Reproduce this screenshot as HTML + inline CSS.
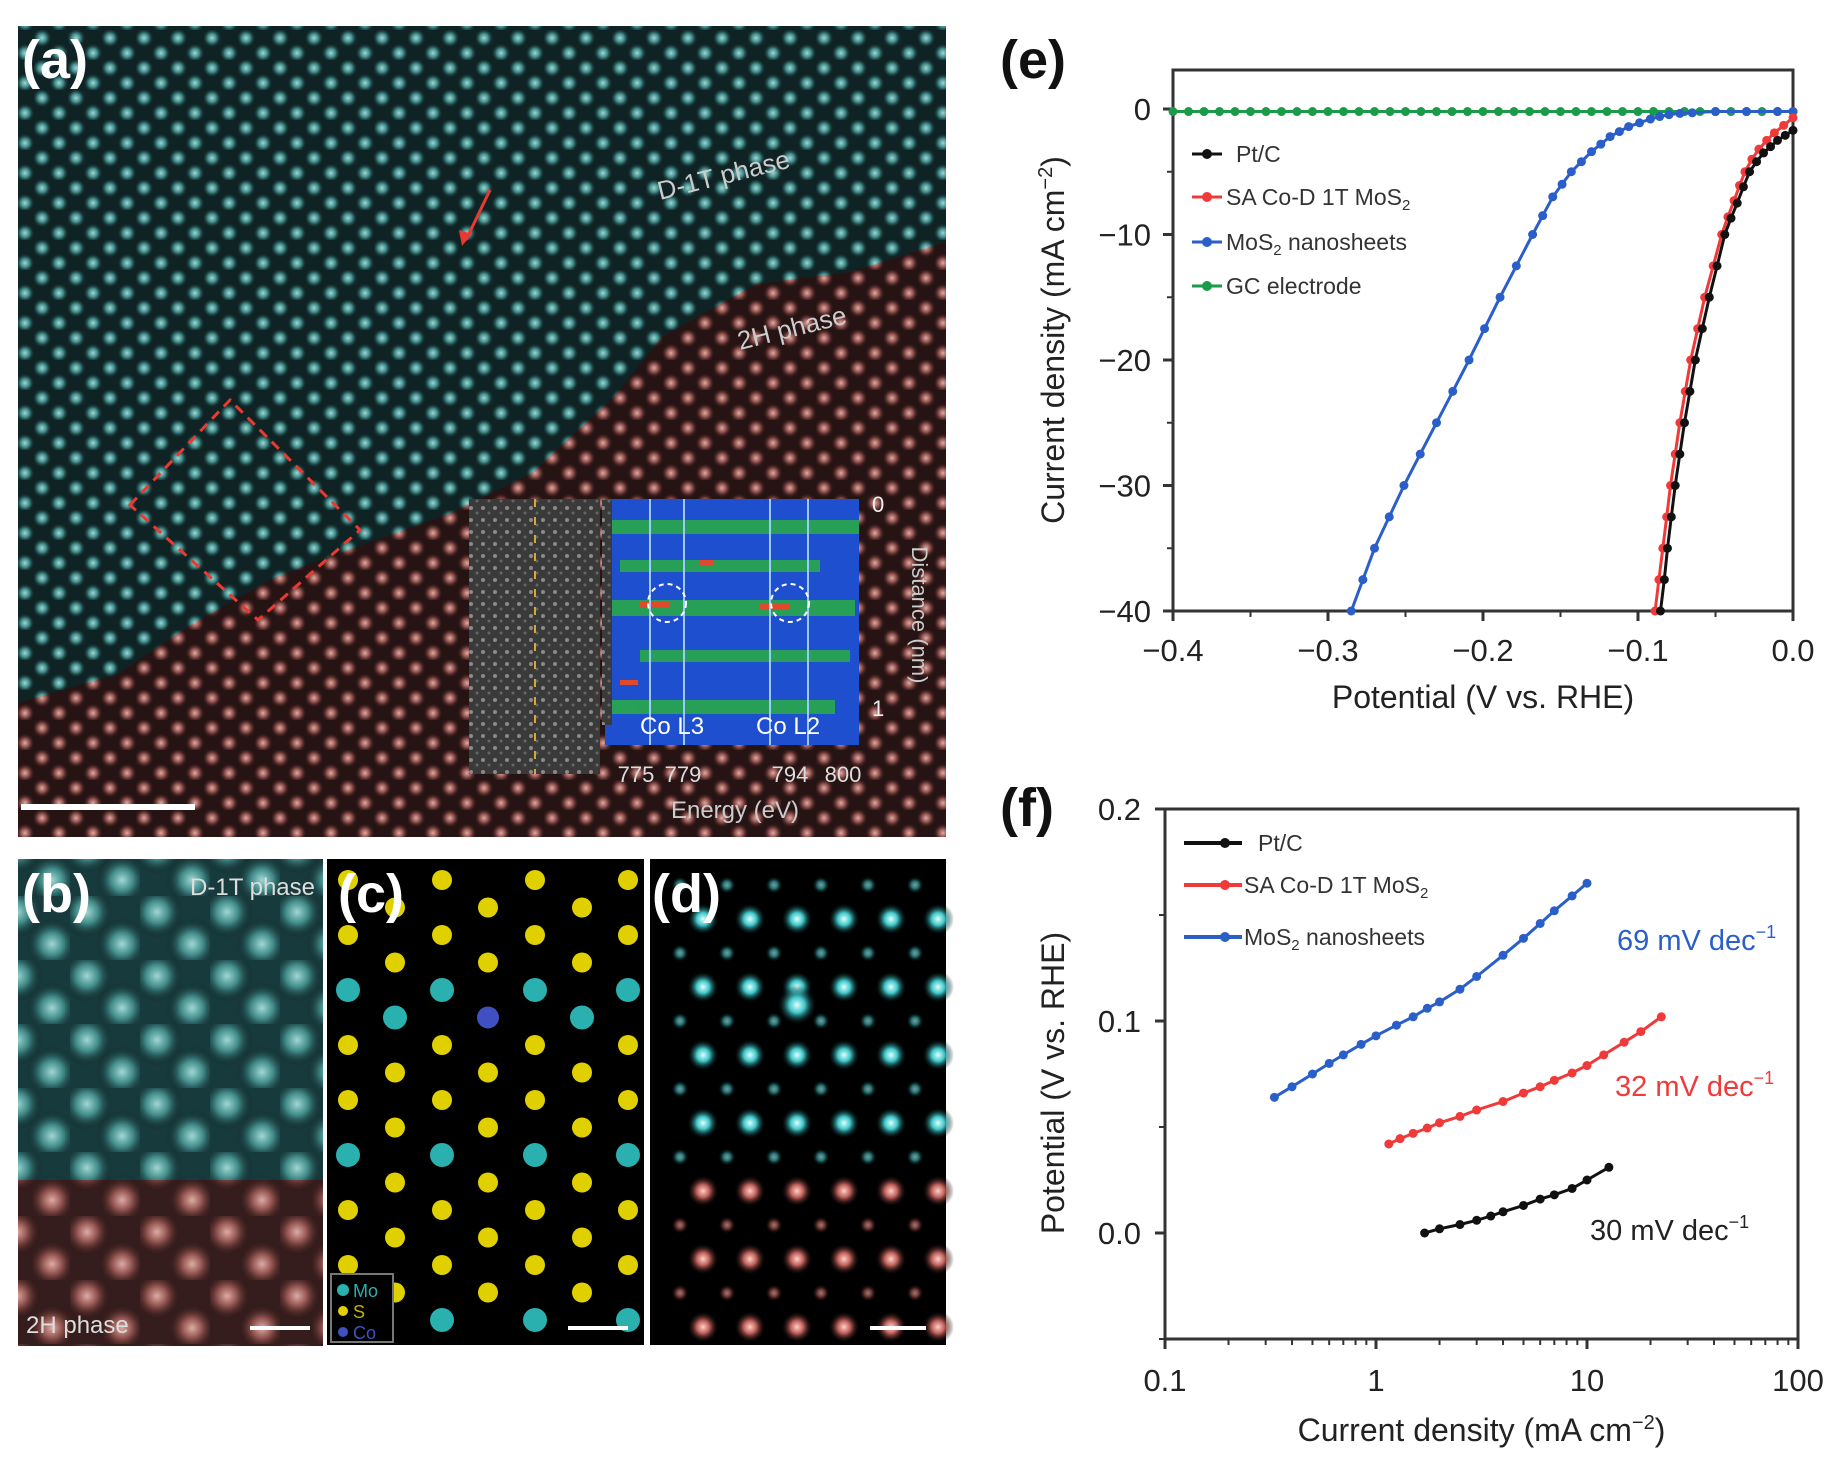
<!DOCTYPE html>
<html><head><meta charset="utf-8"><style>
html,body{margin:0;padding:0;background:#fff;}
svg{display:block;font-family:"Liberation Sans",sans-serif;}
</style></head><body>
<svg id="fig" width="1844" height="1476" viewBox="0 0 1844 1476" xmlns="http://www.w3.org/2000/svg">
<defs>
<radialGradient id="gTeal"><stop offset="0" stop-color="#9ed8d4"/><stop offset="0.45" stop-color="#3f8886"/><stop offset="1" stop-color="#0c1c1e" stop-opacity="0"/></radialGradient>
<radialGradient id="gPink"><stop offset="0" stop-color="#e0aaa4"/><stop offset="0.45" stop-color="#8a4e4a"/><stop offset="1" stop-color="#2a1212" stop-opacity="0"/></radialGradient>
<radialGradient id="gGlowT"><stop offset="0" stop-color="#e0ffff"/><stop offset="0.4" stop-color="#3fc6c8"/><stop offset="1" stop-color="#000" stop-opacity="0"/></radialGradient>
<radialGradient id="gGlowP"><stop offset="0" stop-color="#ffd0c8"/><stop offset="0.4" stop-color="#c0605a"/><stop offset="1" stop-color="#000" stop-opacity="0"/></radialGradient>
<pattern id="pTeal" width="34" height="30" patternUnits="userSpaceOnUse">
<rect width="34" height="30" fill="#0f2224"/>
<circle cx="8" cy="8" r="10" fill="url(#gTeal)"/><circle cx="25" cy="23" r="10" fill="url(#gTeal)"/>
</pattern>
<pattern id="pPink" width="34" height="30" patternUnits="userSpaceOnUse">
<rect width="34" height="30" fill="#261313"/>
<circle cx="8" cy="8" r="10" fill="url(#gPink)"/><circle cx="25" cy="23" r="10" fill="url(#gPink)"/>
</pattern>
<pattern id="pTealB" width="70" height="64" patternUnits="userSpaceOnUse">
<rect width="70" height="64" fill="#173a3c"/>
<circle cx="17" cy="16" r="26" fill="url(#gTeal)"/><circle cx="52" cy="48" r="26" fill="url(#gTeal)"/>
</pattern>
<pattern id="pPinkB" width="70" height="64" patternUnits="userSpaceOnUse">
<rect width="70" height="64" fill="#341d1c"/>
<circle cx="17" cy="16" r="24" fill="url(#gPink)"/><circle cx="52" cy="48" r="24" fill="url(#gPink)"/>
</pattern>
<pattern id="pNoise" width="12" height="12" patternUnits="userSpaceOnUse">
<rect width="12" height="12" fill="#3a3a3a"/><circle cx="3" cy="4" r="2" fill="#8a8a8a"/><circle cx="9" cy="9" r="1.5" fill="#666"/>
</pattern>
<clipPath id="clipA"><rect x="18" y="26" width="928" height="811"/></clipPath>
</defs>

<!-- Panel a -->
<g clip-path="url(#clipA)">
<rect x="18" y="26" width="928" height="811" fill="url(#pPink)"/>
<polygon points="18,26 946,26 946,242 851,272 756,284 662,337 615,396 532,473 449,514 331,556 272,579 189,626 118,674 18,703" fill="url(#pTeal)"/>
<polygon points="130,505 230,400 360,530 258,620" fill="none" stroke="#e83a30" stroke-width="3" stroke-dasharray="10,7"/>
<line x1="490" y1="190" x2="466" y2="240" stroke="#e83a30" stroke-width="3"/>
<polygon points="462,246 459,230 472,234" fill="#e83a30"/>
<text x="660" y="200" fill="#ccc" font-size="26" transform="rotate(-14 660 200)">D-1T phase</text>
<text x="740" y="350" fill="#ccc" font-size="26" transform="rotate(-14 740 350)">2H phase</text>
<rect x="469" y="499" width="131" height="275" fill="url(#pNoise)"/>
<line x1="535" y1="499" x2="535" y2="774" stroke="#d8a830" stroke-width="2" stroke-dasharray="8,10"/>
<rect x="605" y="499" width="254" height="246" fill="#1e4fcf"/>
<g fill="#2aa84a" opacity="0.9">
<rect x="605" y="520" width="254" height="14"/><rect x="620" y="560" width="200" height="12"/><rect x="605" y="600" width="250" height="16"/><rect x="640" y="650" width="210" height="12"/><rect x="605" y="700" width="230" height="14"/>
</g>
<g fill="#e04a2a"><rect x="640" y="602" width="30" height="6"/><rect x="760" y="604" width="30" height="6"/><rect x="700" y="560" width="14" height="5"/><rect x="620" y="680" width="18" height="5"/></g>
<g stroke="#9cc8ff" stroke-width="2"><line x1="650" y1="499" x2="650" y2="745"/><line x1="684" y1="499" x2="684" y2="745"/><line x1="770" y1="499" x2="770" y2="745"/><line x1="808" y1="499" x2="808" y2="745"/></g>
<circle cx="667" cy="603" r="19" fill="none" stroke="#fff" stroke-width="2" stroke-dasharray="5,4"/>
<circle cx="790" cy="603" r="19" fill="none" stroke="#fff" stroke-width="2" stroke-dasharray="5,4"/>
<rect x="602" y="500" width="10" height="225" fill="url(#pNoise)"/>
<text x="640" y="734" fill="#fff" font-size="24">Co L3</text>
<text x="756" y="734" fill="#fff" font-size="24">Co L2</text>
<text x="872" y="512" fill="#eee" font-size="22">0</text>
<text x="872" y="716" fill="#eee" font-size="22">1</text>
<text x="912" y="615" fill="#ccc" font-size="22" transform="rotate(90 912 615)" text-anchor="middle">Distance (nm)</text>
<text x="636" y="782" fill="#ddd" font-size="22" text-anchor="middle">775</text>
<text x="683" y="782" fill="#ddd" font-size="22" text-anchor="middle">779</text>
<text x="790" y="782" fill="#ddd" font-size="22" text-anchor="middle">794</text>
<text x="843" y="782" fill="#ddd" font-size="22" text-anchor="middle">800</text>
<text x="735" y="818" fill="#ccc" font-size="24" text-anchor="middle">Energy (eV)</text>
<rect x="21" y="804" width="174" height="6" fill="#fff"/>
<text x="22" y="78" fill="#fff" font-size="54" font-weight="bold">(a)</text>
</g>

<!-- Panel b -->
<g>
<rect x="18" y="859" width="305" height="322" fill="url(#pTealB)"/>
<rect x="18" y="1180" width="305" height="166" fill="url(#pPinkB)"/>
<text x="315" y="895" fill="#ddd" font-size="24" text-anchor="end">D-1T phase</text>
<text x="26" y="1333" fill="#ddd" font-size="24">2H phase</text>
<rect x="250" y="1326" width="60" height="4" fill="#fff"/>
<text x="22" y="912" fill="#fff" font-size="54" font-weight="bold">(b)</text>
</g>

<!-- Panel c -->
<g>
<rect x="327" y="859" width="317" height="486" fill="#000"/>
<g id="cAtoms"></g>
<rect x="331" y="1274" width="62" height="68" fill="#000" stroke="#777" stroke-width="2"/>
<circle cx="343" cy="1290" r="6" fill="#2bb0b0"/><text x="353" y="1297" fill="#2bb0b0" font-size="18">Mo</text>
<circle cx="343" cy="1311" r="5" fill="#e0d000"/><text x="353" y="1318" fill="#c0b000" font-size="18">S</text>
<circle cx="343" cy="1332" r="5" fill="#4050c0"/><text x="353" y="1339" fill="#4050c0" font-size="18">Co</text>
<rect x="568" y="1326" width="60" height="4" fill="#fff"/>
<text x="338" y="912" fill="#fff" font-size="54" font-weight="bold">(c)</text>
</g>

<!-- Panel d -->
<g>
<rect x="650" y="859" width="296" height="486" fill="#000"/>
<g id="dAtoms"></g>
<rect x="870" y="1326" width="56" height="4" fill="#fff"/>
<text x="652" y="912" fill="#fff" font-size="54" font-weight="bold">(d)</text>
</g>

<!-- Panel e -->
<g id="chartE">
<text x="1000" y="78" font-size="54" font-weight="bold" fill="#111">(e)</text>
</g>
<g id="chartF">
<text x="1000" y="826" font-size="54" font-weight="bold" fill="#111">(f)</text>
</g>
</svg>
<script>
// ===== Panel e data =====
const ePtcX = [-0.0855,-0.083,-0.081,-0.0785,-0.076,-0.073,-0.07,-0.0665,-0.063,-0.0585,-0.054,-0.049,-0.044,-0.04,-0.036,-0.032,-0.028,-0.0235,-0.019,-0.0145,-0.01,-0.005,0];
const ePtcY = [-40,-37.5,-35,-32.5,-30,-27.5,-25,-22.5,-20,-17.5,-15,-12.5,-10,-8.7,-7.5,-6.2,-5,-4.2,-3.5,-3,-2.5,-2.1,-1.7];
const eCoX = [-0.089,-0.0865,-0.084,-0.0815,-0.079,-0.076,-0.073,-0.0695,-0.066,-0.0615,-0.057,-0.0515,-0.046,-0.042,-0.038,-0.0345,-0.031,-0.0265,-0.022,-0.017,-0.012,-0.006,0];
const eCoY = [-40,-37.5,-35,-32.5,-30,-27.5,-25,-22.5,-20,-17.5,-15,-12.5,-10,-8.6,-7.3,-6.1,-5,-4,-3.2,-2.5,-1.9,-1.3,-0.7];
const eMosX = [-0.285,-0.2775,-0.27,-0.2605,-0.251,-0.2405,-0.23,-0.2195,-0.209,-0.199,-0.189,-0.1785,-0.168,-0.1615,-0.155,-0.149,-0.143,-0.1365,-0.13,-0.124,-0.118,-0.112,-0.106,-0.099,-0.092,-0.086,-0.08,-0.073,-0.065,-0.05,-0.03,-0.01,0];
const eMosY = [-40,-37.5,-35,-32.5,-30,-27.5,-25,-22.5,-20,-17.5,-15,-12.5,-10,-8.5,-7,-6,-5,-4.2,-3.4,-2.8,-2.2,-1.8,-1.4,-1.1,-0.8,-0.6,-0.45,-0.35,-0.3,-0.2,-0.2,-0.2,-0.2];
const eGcX = [-0.4,-0.39,-0.38,-0.37,-0.36,-0.35,-0.34,-0.33,-0.32,-0.31,-0.3,-0.29,-0.28,-0.27,-0.26,-0.25,-0.24,-0.23,-0.22,-0.21,-0.2,-0.19,-0.18,-0.17,-0.16,-0.15,-0.14,-0.13,-0.12,-0.11,-0.1,-0.09,-0.08,-0.07,-0.06,-0.05,-0.04,-0.03,-0.02,-0.01,0];
const eGcY = [-0.2,-0.2,-0.2,-0.2,-0.2,-0.2,-0.2,-0.2,-0.2,-0.2,-0.2,-0.2,-0.2,-0.2,-0.2,-0.2,-0.2,-0.2,-0.2,-0.2,-0.2,-0.2,-0.2,-0.2,-0.2,-0.2,-0.2,-0.2,-0.2,-0.2,-0.2,-0.2,-0.2,-0.2,-0.2,-0.2,-0.2,-0.2,-0.2,-0.2,-0.2];
const eXTicks = [-0.4,-0.3,-0.2,-0.1,0.0];
const eXTickLabels = ["\u22120.4","\u22120.3","\u22120.2","\u22120.1","0.0"];
const eYTicks = [0,-10,-20,-30,-40];
const eYTickLabels = ["0","\u221210","\u221220","\u221230","\u221240"];
// ===== Panel f data =====
const fPtcX = [1.7,2,2.5,3,3.5,4,5,6,7,8.5,10,12.7];
const fPtcY = [0,0.002,0.004,0.006,0.008,0.01,0.013,0.016,0.018,0.021,0.025,0.031];
const fCoX = [1.15,1.3,1.5,1.75,2,2.5,3,4,5,6,7,8.5,10,12,15,18,22.5];
const fCoY = [0.042,0.0445,0.047,0.0495,0.052,0.055,0.058,0.062,0.066,0.069,0.072,0.0755,0.079,0.084,0.09,0.095,0.102];
const fMosX = [0.33,0.4,0.5,0.6,0.7,0.85,1,1.25,1.5,1.75,2,2.5,3,4,5,6,7,8.5,10];
const fMosY = [0.064,0.069,0.075,0.08,0.084,0.089,0.093,0.098,0.102,0.106,0.109,0.115,0.121,0.131,0.139,0.146,0.152,0.159,0.165];
const fXTicks = [0.1,1,10,100];
const fXTickLabels = ["0.1","1","10","100"];
const fYTicks = [0.2,0.1,0.0];
const fYTickLabels = ["0.2","0.1","0.0"];
const slopeLabels = ["69 mV dec","32 mV dec","30 mV dec"];

const NS = "http://www.w3.org/2000/svg";
function mk(parent, tag, attrs, text){
  const el = document.createElementNS(NS, tag);
  for (const k in attrs) el.setAttribute(k, attrs[k]);
  if (text !== undefined) el.textContent = text;
  parent.appendChild(el);
  return el;
}

// Axis functions
const eL=1173,eR=1793,eT=70,eB=611;
function exS(v){return eL+(v+0.4)/0.4*(eR-eL);}
function eyS(v){return 109+(-v)*12.55;}
const fL=1165,fR=1798,fT=809,fB=1339;
function fxS(v){return fL+(Math.log10(v)+1)*(fR-fL)/3;}
function fyS(v){return 1233-v*2120;}

function drawSeries(g, xs, ys, xf, yf, color, name, r){
  let d="";
  for(let i=0;i<xs.length;i++){d+=(i?"L":"M")+xf(xs[i]).toFixed(1)+","+yf(ys[i]).toFixed(1);}
  const sg = mk(g,"g",{});
  
  
  mk(sg,"path",{d:d,fill:"none",stroke:color,"stroke-width":3});
  for(let i=0;i<xs.length;i++){
    const c = mk(sg,"circle",{cx:xf(xs[i]),cy:yf(ys[i]),r:r,fill:color});
    
    
  }
}

// ===== Chart e =====
const gE = document.getElementById("chartE");
mk(gE,"rect",{x:eL,y:eT,width:eR-eL,height:eB-eT,fill:"none",stroke:"#333","stroke-width":3});
for(let i=0;i<eXTicks.length;i++){
  const x=exS(eXTicks[i]);
  mk(gE,"line",{x1:x,y1:eB,x2:x,y2:eB+10,stroke:"#333","stroke-width":3});
  const t=mk(gE,"text",{x:x,y:661,"font-size":31,"text-anchor":"middle",fill:"#222"},eXTickLabels[i]);
  
  
  if(i<eXTicks.length-1){const xm=exS(eXTicks[i]+0.05);mk(gE,"line",{x1:xm,y1:eB,x2:xm,y2:eB+6,stroke:"#333","stroke-width":2});}
}
for(let i=0;i<eYTicks.length;i++){
  const y=eyS(eYTicks[i]);
  mk(gE,"line",{x1:eL-10,y1:y,x2:eL,y2:y,stroke:"#333","stroke-width":3});
  const t=mk(gE,"text",{x:eL-22,y:y+11,"font-size":31,"text-anchor":"end",fill:"#222"},eYTickLabels[i]);
  
  
  if(i<eYTicks.length-1){const ym=eyS(eYTicks[i]-5);mk(gE,"line",{x1:eL-6,y1:ym,x2:eL,y2:ym,stroke:"#333","stroke-width":2});}
}
let t;
t=mk(gE,"text",{x:(eL+eR)/2,y:708,"font-size":32,"text-anchor":"middle",fill:"#222"},"Potential (V vs. RHE)");


t=mk(gE,"text",{x:0,y:0,"font-size":32,"text-anchor":"middle",fill:"#222",transform:"translate(1064 340) rotate(-90)"});


t.innerHTML='Current density (mA cm<tspan dy="-12" font-size="20">\u22122</tspan><tspan dy="12">)</tspan>';

drawSeries(gE,eGcX,eGcY,exS,eyS,"#1a9a4a","series-gc-electrode-e",4.5);
drawSeries(gE,eMosX,eMosY,exS,eyS,"#2a5ec8","series-mos2-nanosheets-e",4.5);
drawSeries(gE,eCoX,eCoY,exS,eyS,"#f03a3a","series-sa-co-e",4.5);
drawSeries(gE,ePtcX,ePtcY,exS,eyS,"#111","series-ptc-e",4.5);

const legE=[["Pt/C","#111",154],["SA Co-D 1T MoS","#f03a3a",197],["MoS","#2a5ec8",242],["GC electrode","#1a9a4a",286]];
for(let i=0;i<legE.length;i++){
  const [lab,col,y]=legE[i];
  const lg=mk(gE,"g",{});
  
  
  mk(lg,"line",{x1:1192,y1:y,x2:1222,y2:y,stroke:col,"stroke-width":3});
  mk(lg,"circle",{cx:1207,cy:y,r:5,fill:col});
  const tx=mk(lg,"text",{x:i==0?1236:1226,y:y+8,"font-size":23,fill:"#333"});
  if(i==1) tx.innerHTML='SA Co-D 1T MoS<tspan dy="5" font-size="15">2</tspan>';
  else if(i==2) tx.innerHTML='MoS<tspan dy="5" font-size="15">2</tspan><tspan dy="-5"> nanosheets</tspan>';
  else tx.textContent=lab;
}

// ===== Chart f =====
const gF = document.getElementById("chartF");
mk(gF,"rect",{x:fL,y:fT,width:fR-fL,height:fB-fT,fill:"none",stroke:"#333","stroke-width":3});
for(let i=0;i<fXTicks.length;i++){
  const x=fxS(fXTicks[i]);
  mk(gF,"line",{x1:x,y1:fB,x2:x,y2:fB+10,stroke:"#333","stroke-width":3});
  t=mk(gF,"text",{x:x,y:1391,"font-size":31,"text-anchor":"middle",fill:"#222"},fXTickLabels[i]);
  
  
  if(i<fXTicks.length-1){for(let m=2;m<10;m++){const xm=fxS(fXTicks[i]*m);mk(gF,"line",{x1:xm,y1:fB,x2:xm,y2:fB+6,stroke:"#333","stroke-width":2});}}
}
for(let i=0;i<fYTicks.length;i++){
  const y=fyS(fYTicks[i]);
  mk(gF,"line",{x1:fL-10,y1:y,x2:fL,y2:y,stroke:"#333","stroke-width":3});
  t=mk(gF,"text",{x:fL-24,y:y+11,"font-size":31,"text-anchor":"end",fill:"#222"},fYTickLabels[i]);
  
  
  const ym=fyS(fYTicks[i]-0.05);mk(gF,"line",{x1:fL-6,y1:ym,x2:fL,y2:ym,stroke:"#333","stroke-width":2});
}
t=mk(gF,"text",{x:(fL+fR)/2,y:1441,"font-size":32,"text-anchor":"middle",fill:"#222"});


t.innerHTML='Current density (mA cm<tspan dy="-12" font-size="20">\u22122</tspan><tspan dy="12">)</tspan>';
t=mk(gF,"text",{x:0,y:0,"font-size":32,"text-anchor":"middle",fill:"#222",transform:"translate(1064 1083) rotate(-90)"},"Potential (V vs. RHE)");



drawSeries(gF,fMosX,fMosY,fxS,fyS,"#2a5ec8","series-mos2-nanosheets-f",4.5);
drawSeries(gF,fCoX,fCoY,fxS,fyS,"#f03a3a","series-sa-co-f",4.5);
drawSeries(gF,fPtcX,fPtcY,fxS,fyS,"#111","series-ptc-f",4.5);

const legF=[["Pt/C","#111",843],["SA","#f03a3a",885],["MoS","#2a5ec8",937]];
for(let i=0;i<legF.length;i++){
  const [lab,col,y]=legF[i];
  const lg=mk(gF,"g",{});
  
  
  mk(lg,"line",{x1:1184,y1:y,x2:1242,y2:y,stroke:col,"stroke-width":4});
  mk(lg,"circle",{cx:1225,cy:y,r:5,fill:col});
  const tx=mk(lg,"text",{x:i==0?1258:1244,y:y+8,"font-size":23,fill:"#333"});
  if(i==1) tx.innerHTML='SA Co-D 1T MoS<tspan dy="5" font-size="15">2</tspan>';
  else if(i==2) tx.innerHTML='MoS<tspan dy="5" font-size="15">2</tspan><tspan dy="-5"> nanosheets</tspan>';
  else tx.textContent=lab;
}
const slopePos=[[1617,950,"#2a5ec8"],[1615,1096,"#f03a3a"],[1590,1240,"#222"]];
for(let i=0;i<slopeLabels.length;i++){
  const [x,y,c]=slopePos[i];
  const tx=mk(gF,"text",{x:x,y:y,"font-size":29,fill:c});
  
  
  tx.innerHTML=slopeLabels[i]+'<tspan dy="-12" font-size="18">\u22121</tspan>';
}

// ===== Panel c atom model (decorative) =====
const gc=document.getElementById("cAtoms");
const colX=[348,395,442,488,535,582,628];
for(let r=0;r<17;r++){
  const y=880+r*27.5;
  for(let c=0;c<7;c++){
    const x=colX[c];
    const isMo = ((r%3)==1 && c%2==0) || ((r%3)==2 && c%2==1 && r<8) ;
    if(r==5 && c==3){mk(gc,"circle",{cx:x,cy:y,r:11,fill:"#4050c0"});continue;}
    if((r+c)%2==0) mk(gc,"circle",{cx:x,cy:y,r:isMo?12:10,fill:isMo?"#2bb0b0":"#e0d000"});
  }
}
// ===== Panel d glow =====
const gd=document.getElementById("dAtoms");
for(let r=0;r<14;r++){
  const y=885+r*34;
  for(let c=0;c<6;c++){
    const x=680+c*47+(r%2)*23;
    const big=(r%2==1);
    const pink=r>=9;
    mk(gd,"circle",{cx:x,cy:y,r:big?16:9,fill:pink?"url(#gGlowP)":"url(#gGlowT)",opacity:big?1:0.6});
  }
}
mk(gd,"circle",{cx:797,cy:1005,r:20,fill:"url(#gGlowT)"});
</script>
</body></html>
